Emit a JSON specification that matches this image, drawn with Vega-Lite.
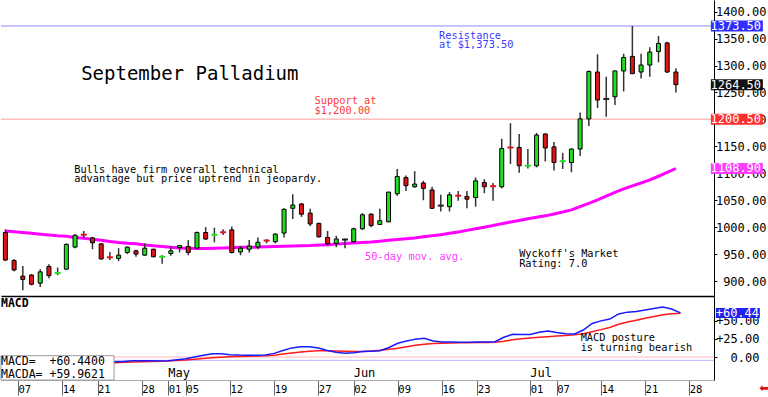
{
  "$schema": "https://vega.github.io/schema/vega-lite/v6.json",
  "background": "white",
  "padding": 0,
  "spacing": 0,
  "config": {"view": {"stroke": null}, "text": {"font": "DejaVu Sans Mono"}, "axis": {"labelFont": "DejaVu Sans Mono", "labelOverlap": false}},
  "datasets": {
    "candles": [
      {"i":-2,"o":990,"h":996,"l":937,"c":939,"ma":993,"m":-9,"s":-9.5},
      {"i":-1,"o":938,"h":941,"l":918,"c":920.5,"ma":991.5,"m":-9,"s":-9.5},
      {"i":0,"o":909,"h":928,"l":883,"c":903,"ma":990,"m":-9,"s":-9.5},
      {"i":1,"o":911,"h":913,"l":892,"c":894,"ma":988.5,"m":-9,"s":-9.5},
      {"i":2,"o":896,"h":922,"l":889,"c":917,"ma":987,"m":-8.5,"s":-9.3},
      {"i":3,"o":927,"h":931,"l":905,"c":910,"ma":985.5,"m":-8,"s":-9},
      {"i":4,"o":915,"h":925,"l":911,"c":916,"ma":984,"m":-7.5,"s":-8.8},
      {"i":5,"o":922,"h":970,"l":921,"c":968,"ma":983,"m":-6.5,"s":-8.5},
      {"i":6,"o":963,"h":987,"l":961,"c":985,"ma":981,"m":-5.5,"s":-8.2},
      {"i":7,"o":986,"h":993,"l":980,"c":985,"ma":979.5,"m":-5,"s":-8},
      {"i":8,"o":980,"h":982,"l":959,"c":971,"ma":977.5,"m":-5,"s":-7.9},
      {"i":9,"o":969,"h":970,"l":940,"c":941,"ma":975.5,"m":-5.5,"s":-7.8},
      {"i":10,"o":944,"h":954,"l":939,"c":943,"ma":973.5,"m":-6,"s":-7.8},
      {"i":11,"o":942,"h":961,"l":937,"c":948,"ma":971.5,"m":-6.4,"s":-7.7},
      {"i":12,"o":953,"h":964,"l":950,"c":963,"ma":970,"m":-6,"s":-7.3},
      {"i":13,"o":956,"h":958,"l":945,"c":950,"ma":969,"m":-5.2,"s":-6.8},
      {"i":14,"o":948,"h":970,"l":947,"c":961,"ma":967,"m":-5,"s":-6.4},
      {"i":15,"o":959,"h":960,"l":944,"c":945,"ma":965.5,"m":-5.2,"s":-6},
      {"i":16,"o":945,"h":948,"l":932,"c":946,"ma":964,"m":-5.5,"s":-5.8},
      {"i":17,"o":951,"h":964,"l":947,"c":956,"ma":962.5,"m":-5,"s":-5.5},
      {"i":18,"o":962,"h":967,"l":953,"c":966,"ma":961.5,"m":-3.8,"s":-4.8},
      {"i":19,"o":964,"h":976,"l":948,"c":953,"ma":961,"m":-2.5,"s":-4},
      {"i":20,"o":961,"h":992,"l":960,"c":990,"ma":960.5,"m":0,"s":-3},
      {"i":21,"o":990,"h":1000,"l":976,"c":978,"ma":960.5,"m":2.5,"s":-2},
      {"i":22,"o":986,"h":999,"l":972,"c":987,"ma":961,"m":4.5,"s":-1},
      {"i":23,"o":990.5,"h":996,"l":985.5,"c":989.5,"ma":961.5,"m":4.5,"s":-0.3},
      {"i":24,"o":995,"h":1001,"l":951,"c":953,"ma":962,"m":3.2,"s":0.3},
      {"i":25,"o":954,"h":965,"l":948,"c":961,"ma":962.5,"m":2.7,"s":0.8},
      {"i":26,"o":959,"h":976,"l":953,"c":965,"ma":962.5,"m":2.5,"s":1.1},
      {"i":27,"o":963,"h":981,"l":959,"c":972,"ma":963,"m":2.5,"s":1.4},
      {"i":28,"o":975,"h":978,"l":970,"c":974,"ma":963.5,"m":2.7,"s":1.7},
      {"i":29,"o":973,"h":989,"l":970,"c":987,"ma":964,"m":5,"s":2.5},
      {"i":30,"o":989,"h":1035,"l":981,"c":1033,"ma":964.5,"m":9,"s":4},
      {"i":31,"o":1035,"h":1061,"l":1015,"c":1041,"ma":965,"m":12.5,"s":5.5},
      {"i":32,"o":1043,"h":1045,"l":1019,"c":1024,"ma":965.5,"m":14,"s":7},
      {"i":33,"o":1026,"h":1034,"l":1002,"c":1006,"ma":966,"m":14,"s":8},
      {"i":34,"o":1007,"h":1008,"l":981,"c":982,"ma":967,"m":12.3,"s":8.5},
      {"i":35,"o":981,"h":993,"l":967,"c":969,"ma":967.5,"m":9,"s":8.6},
      {"i":36,"o":970,"h":984,"l":963,"c":978,"ma":968.5,"m":6.5,"s":8.3},
      {"i":37,"o":977,"h":979,"l":961,"c":977,"ma":969.5,"m":5,"s":7.8},
      {"i":38,"o":973,"h":999,"l":971,"c":997,"ma":970.5,"m":6,"s":7.4},
      {"i":39,"o":997,"h":1026,"l":995,"c":1023,"ma":971.5,"m":7.5,"s":7.6},
      {"i":40,"o":1024,"h":1026,"l":1000,"c":1003,"ma":972.5,"m":8,"s":8.2},
      {"i":41,"o":1005,"h":1034,"l":1004,"c":1012,"ma":974,"m":8.6,"s":9.2},
      {"i":42,"o":1010,"h":1066,"l":1009,"c":1065,"ma":975.5,"m":13,"s":10.5},
      {"i":43,"o":1062,"h":1108,"l":1058,"c":1094,"ma":977,"m":18.8,"s":11.9},
      {"i":44,"o":1092,"h":1096,"l":1067,"c":1077,"ma":978.5,"m":22,"s":14},
      {"i":45,"o":1075,"h":1104,"l":1073,"c":1080,"ma":980,"m":24.5,"s":16.2},
      {"i":46,"o":1082,"h":1086,"l":1050,"c":1072,"ma":982,"m":25.6,"s":17.5},
      {"i":47,"o":1069,"h":1075,"l":1034,"c":1035,"ma":984,"m":22,"s":18.6},
      {"i":48,"o":1040,"h":1060,"l":1029,"c":1040,"ma":986,"m":20.5,"s":19},
      {"i":49,"o":1038,"h":1065,"l":1029,"c":1060,"ma":988.5,"m":20.5,"s":19.3},
      {"i":50,"o":1058.5,"h":1067,"l":1049,"c":1057.5,"ma":991,"m":20.3,"s":19.5},
      {"i":51,"o":1057,"h":1067,"l":1035,"c":1052,"ma":994,"m":20.1,"s":19.6},
      {"i":52,"o":1055,"h":1092,"l":1038,"c":1086,"ma":997,"m":20.5,"s":19.8},
      {"i":53,"o":1083,"h":1089,"l":1063,"c":1075,"ma":1000,"m":20.5,"s":20},
      {"i":54,"o":1076,"h":1082,"l":1049,"c":1075,"ma":1003,"m":21,"s":20.1},
      {"i":55,"o":1075,"h":1164,"l":1072,"c":1146,"ma":1006.5,"m":27,"s":21.5},
      {"i":56,"o":1148,"h":1193,"l":1117,"c":1147,"ma":1009.5,"m":31.1,"s":23.5},
      {"i":57,"o":1148,"h":1173,"l":1101,"c":1114,"ma":1012.5,"m":31,"s":25},
      {"i":58,"o":1114,"h":1145,"l":1109,"c":1115,"ma":1015.5,"m":31,"s":26},
      {"i":59,"o":1114,"h":1175,"l":1111,"c":1171,"ma":1018.5,"m":34,"s":27},
      {"i":60,"o":1173,"h":1174,"l":1122,"c":1147,"ma":1021,"m":35.6,"s":27.8},
      {"i":61,"o":1149,"h":1158,"l":1105,"c":1120,"ma":1024.5,"m":33.5,"s":28.7},
      {"i":62,"o":1122.5,"h":1138,"l":1108,"c":1123.5,"ma":1028,"m":32,"s":29.6},
      {"i":63,"o":1120,"h":1146,"l":1102,"c":1145,"ma":1032,"m":31.5,"s":30.5},
      {"i":64,"o":1145,"h":1213,"l":1132,"c":1201,"ma":1038,"m":37,"s":32},
      {"i":65,"o":1201,"h":1291,"l":1188,"c":1289,"ma":1044,"m":46,"s":34.7},
      {"i":66,"o":1288,"h":1321,"l":1221,"c":1236,"ma":1050.5,"m":49.5,"s":37.5},
      {"i":67,"o":1238,"h":1279,"l":1205,"c":1238,"ma":1057.5,"m":52,"s":40.5},
      {"i":68,"o":1242,"h":1291,"l":1227,"c":1290,"ma":1064.5,"m":59,"s":44.8},
      {"i":69,"o":1290,"h":1322,"l":1252,"c":1315,"ma":1071,"m":61.5,"s":48},
      {"i":70,"o":1317,"h":1373.5,"l":1284,"c":1285,"ma":1076.5,"m":62.5,"s":50.5},
      {"i":71,"o":1288,"h":1322,"l":1276,"c":1301,"ma":1082,"m":64.4,"s":53},
      {"i":72,"o":1301,"h":1334,"l":1279,"c":1325,"ma":1087.7,"m":66.5,"s":55.5},
      {"i":73,"o":1326,"h":1355,"l":1306,"c":1341,"ma":1094.5,"m":68.5,"s":58},
      {"i":74,"o":1342,"h":1344,"l":1286,"c":1288,"ma":1101.5,"m":65.8,"s":59.3},
      {"i":75,"o":1288,"h":1295,"l":1250,"c":1264.5,"ma":1108.9,"m":60.44,"s":59.96}
    ],
    "tags": [
      {"kind":"resistance","price":1373.5},
      {"kind":"last","price":1264.5},
      {"kind":"support","price":1200.5},
      {"kind":"ma50","price":1108.9}
    ],
    "months": [
      {"month":"May","first":17},
      {"month":"Jun","first":38},
      {"month":"Jul","first":58}
    ]
  },
  "vconcat": [
    {
      "width": 713,
      "height": 296,
      "layer": [
        {
          "data": {"name": "candles"},
          "mark": {"type": "line", "color": "#ff00ff", "strokeWidth": 3, "clip": true},
          "encoding": {
            "x": {"field": "i", "type": "quantitative", "scale": {"domain": [-1.93, 78.8], "nice": false, "zero": false},
                  "axis": {"orient": "bottom", "title": null, "labels": false, "ticks": false, "grid": false, "domain": true, "domainColor": "#000", "domainWidth": 1.5}},
            "y": {"field": "ma", "type": "quantitative", "scale": {"domain": [872.2, 1421.7], "nice": false, "zero": false},
                  "axis": {"orient": "right", "title": null, "values": [900, 950, 1000, 1050, 1100, 1150, 1200, 1250, 1300, 1350, 1400], "tickCount": 30, "labelExpr": "format(datum.value, '.2f')", "grid": false, "domainColor": "#000", "tickColor": "#000", "tickSize": 3, "labelAlign": "right", "labelPadding": 49, "labelFontSize": 12, "labelColor": "#000", "labelBaseline": "middle", "labelOverlap": false, "labelFlush": false, "labelBound": false}}
          }
        },
        {
          "data": {"values": [{}]},
          "mark": {"type": "rule", "color": "#8c8cff", "strokeWidth": 1},
          "encoding": {"y": {"datum": 1373.5, "type": "quantitative"}}
        },
        {
          "data": {"values": [{}]},
          "mark": {"type": "rule", "color": "#ff9c9c", "strokeWidth": 1},
          "encoding": {"y": {"datum": 1200.5, "type": "quantitative"}}
        },
        {
          "data": {"name": "candles"},
          "mark": {"type": "rule", "color": "#333", "strokeWidth": 1.5, "clip": true},
          "encoding": {
            "x": {"field": "i", "type": "quantitative"},
            "y": {"field": "l", "type": "quantitative"},
            "y2": {"field": "h"}
          }
        },
        {
          "data": {"name": "candles"},
          "transform": [{"filter": "abs(datum.c - datum.o) >= 2.5"}],
          "mark": {"type": "bar", "width": 4, "stroke": "#000", "strokeWidth": 1, "clip": true},
          "encoding": {
            "x": {"field": "i", "type": "quantitative"},
            "y": {"field": "o", "type": "quantitative"},
            "y2": {"field": "c"},
            "fill": {"condition": {"test": "datum.c > datum.o", "value": "#22dd22"}, "value": "#e01414"}
          }
        },
        {
          "data": {"name": "candles"},
          "transform": [{"filter": "abs(datum.c - datum.o) < 2.5"}],
          "mark": {"type": "tick", "orient": "horizontal", "size": 6, "thickness": 2, "opacity": 1, "clip": true},
          "encoding": {
            "x": {"field": "i", "type": "quantitative"},
            "y": {"field": "o", "type": "quantitative"},
            "color": {"condition": [{"test": "datum.c > datum.o", "value": "#22dd22"}, {"test": "datum.c < datum.o", "value": "#e01414"}], "value": "#222"}
          }
        },
        {
          "data": {"name": "tags"},
          "mark": {"type": "tick", "orient": "horizontal", "size": 52, "thickness": 11, "opacity": 1},
          "encoding": {
            "y": {"field": "price", "type": "quantitative"},
            "x": {"datum": 82.0, "type": "quantitative"},
            "color": {"field": "kind", "type": "nominal", "scale": {"domain": ["resistance", "last", "support", "ma50"], "range": ["#2f2fff", "#111111", "#ff2f2f", "#ff3cff"]}, "legend": null}
          }
        },
        {
          "data": {"name": "tags"},
          "mark": {"type": "text", "align": "right", "baseline": "middle", "color": "white", "fontSize": 12, "font": "DejaVu Sans Mono"},
          "encoding": {
            "y": {"field": "price", "type": "quantitative"},
            "x": {"datum": 84.78, "type": "quantitative"},
            "text": {"field": "price", "type": "quantitative", "format": ".2f"}
          }
        },
        {
          "data": {"values": [{}]},
          "mark": {"type": "text", "text": "September Palladium", "align": "left", "baseline": "middle", "fontSize": 19, "color": "#000", "font": "DejaVu Sans Mono"},
          "encoding": {"x": {"datum": 6.7, "type": "quantitative"}, "y": {"datum": 1283.4, "type": "quantitative"}}
        },
        {
          "data": {"values": [{}]},
          "mark": {"type": "text", "text": "Resistance", "align": "left", "baseline": "middle", "fontSize": 10.3, "color": "#3a3aff", "font": "DejaVu Sans Mono"},
          "encoding": {"x": {"datum": 47.8, "type": "quantitative"}, "y": {"datum": 1354.5, "type": "quantitative"}}
        },
        {
          "data": {"values": [{}]},
          "mark": {"type": "text", "text": "at $1,373.50", "align": "left", "baseline": "middle", "fontSize": 10.3, "color": "#3a3aff", "font": "DejaVu Sans Mono"},
          "encoding": {"x": {"datum": 47.8, "type": "quantitative"}, "y": {"datum": 1337.4, "type": "quantitative"}}
        },
        {
          "data": {"values": [{}]},
          "mark": {"type": "text", "text": "Support at", "align": "left", "baseline": "middle", "fontSize": 10.3, "color": "#ff3a3a", "font": "DejaVu Sans Mono"},
          "encoding": {"x": {"datum": 33.5, "type": "quantitative"}, "y": {"datum": 1235, "type": "quantitative"}}
        },
        {
          "data": {"values": [{}]},
          "mark": {"type": "text", "text": "$1,200.00", "align": "left", "baseline": "middle", "fontSize": 10.3, "color": "#ff3a3a", "font": "DejaVu Sans Mono"},
          "encoding": {"x": {"datum": 33.5, "type": "quantitative"}, "y": {"datum": 1216, "type": "quantitative"}}
        },
        {
          "data": {"values": [{}]},
          "mark": {"type": "text", "text": "Bulls have firm overall technical", "align": "left", "baseline": "middle", "fontSize": 10.3, "color": "#000", "font": "DejaVu Sans Mono"},
          "encoding": {"x": {"datum": 5.9, "type": "quantitative"}, "y": {"datum": 1106.9, "type": "quantitative"}}
        },
        {
          "data": {"values": [{}]},
          "mark": {"type": "text", "text": "advantage but price uptrend in jeopardy.", "align": "left", "baseline": "middle", "fontSize": 10.3, "color": "#000", "font": "DejaVu Sans Mono"},
          "encoding": {"x": {"datum": 5.9, "type": "quantitative"}, "y": {"datum": 1089.4, "type": "quantitative"}}
        },
        {
          "data": {"values": [{}]},
          "mark": {"type": "text", "text": "50-day mov. avg.", "align": "left", "baseline": "middle", "fontSize": 10.3, "color": "#ff3cff", "font": "DejaVu Sans Mono"},
          "encoding": {"x": {"datum": 39.3, "type": "quantitative"}, "y": {"datum": 944.8, "type": "quantitative"}}
        },
        {
          "data": {"values": [{}]},
          "mark": {"type": "text", "text": "Wyckoff's Market", "align": "left", "baseline": "middle", "fontSize": 10.3, "color": "#000", "font": "DejaVu Sans Mono"},
          "encoding": {"x": {"datum": 57.0, "type": "quantitative"}, "y": {"datum": 949.5, "type": "quantitative"}}
        },
        {
          "data": {"values": [{}]},
          "mark": {"type": "text", "text": "Rating: 7.0", "align": "left", "baseline": "middle", "fontSize": 10.3, "color": "#000", "font": "DejaVu Sans Mono"},
          "encoding": {"x": {"datum": 57.0, "type": "quantitative"}, "y": {"datum": 930.9, "type": "quantitative"}}
        }
      ]
    },
    {
      "width": 713,
      "height": 84,
      "layer": [
        {
          "data": {"values": [{}]},
          "mark": {"type": "rule", "color": "#ffb8b8", "strokeWidth": 1},
          "encoding": {"y": {"datum": 0, "type": "quantitative"}}
        },
        {
          "data": {"values": [{}]},
          "mark": {"type": "rule", "color": "#b8b8ff", "strokeWidth": 1},
          "encoding": {"y": {"datum": -4.6, "type": "quantitative"}}
        },
        {
          "data": {"name": "candles"},
          "mark": {"type": "line", "color": "#ff1a1a", "strokeWidth": 1.5, "clip": true},
          "encoding": {
            "x": {"field": "i", "type": "quantitative", "scale": {"domain": [-1.93, 78.8], "nice": false, "zero": false},
                  "axis": {"orient": "bottom", "title": null, "values": [0, 5, 9, 14, 17, 19, 24, 29, 34, 38, 43, 48, 52, 58, 61, 66, 71, 76], "tickCount": 40,
                           "labelExpr": "({'0':'07','5':'14','9':'21','14':'28','17':'01','19':'05','24':'12','29':'19','34':'27','38':'02','43':'09','48':'16','52':'23','58':'01','61':'07','66':'14','71':'21','76':'28'})[''+datum.value]",
                           "grid": false, "domain": true, "domainColor": "#aaa", "ticks": true, "tickColor": "#666", "tickSize": 15, "labelAlign": "left", "labelBaseline": "top", "labelPadding": -11, "labelDx": 2, "labelFontSize": 10.5, "labelColor": "#000", "labelOverlap": false, "labelFlush": false, "labelBound": false}},
            "y": {"field": "s", "type": "quantitative", "scale": {"domain": [-31.5, 83.6], "nice": false, "zero": false},
                  "axis": {"orient": "right", "title": null, "values": [0, 25, 50], "tickCount": 10, "labelExpr": "datum.value > 0 ? '+' + format(datum.value, '.2f') : format(datum.value, '.2f')", "grid": false, "domainColor": "#000", "tickColor": "#000", "tickSize": 3, "labelAlign": "right", "labelPadding": 42, "labelFontSize": 12, "labelColor": "#000", "labelBaseline": "middle", "labelOverlap": false, "labelFlush": false, "labelBound": false}}
          }
        },
        {
          "data": {"name": "candles"},
          "mark": {"type": "line", "color": "#1a1aff", "strokeWidth": 1.5, "clip": true},
          "encoding": {
            "x": {"field": "i", "type": "quantitative"},
            "y": {"field": "m", "type": "quantitative"}
          }
        },
        {
          "data": {"values": [{}]},
          "mark": {"type": "rect", "fill": "white", "stroke": "#9a9a9a", "strokeWidth": 1},
          "encoding": {"x": {"datum": -1.93, "type": "quantitative"}, "x2": {"datum": 10.87}, "y": {"datum": 1.8, "type": "quantitative"}, "y2": {"datum": -31.5}}
        },
        {
          "data": {"values": [{}]},
          "mark": {"type": "text", "text": "MACD=\u00a0\u00a0+60.4400", "align": "left", "baseline": "middle", "fontSize": 11.5, "color": "#000", "font": "DejaVu Sans Mono"},
          "encoding": {"x": {"datum": -1.93, "type": "quantitative"}, "y": {"datum": -7.5, "type": "quantitative"}}
        },
        {
          "data": {"values": [{}]},
          "mark": {"type": "text", "text": "MACDA=\u00a0+59.9621", "align": "left", "baseline": "middle", "fontSize": 11.5, "color": "#000", "font": "DejaVu Sans Mono"},
          "encoding": {"x": {"datum": -1.93, "type": "quantitative"}, "y": {"datum": -24.9, "type": "quantitative"}}
        },
        {
          "data": {"values": [{}]},
          "mark": {"type": "text", "text": "MACD", "align": "left", "baseline": "middle", "fontSize": 11.5, "fontWeight": "bold", "color": "#000", "font": "DejaVu Sans Mono"},
          "encoding": {"x": {"datum": -1.93, "type": "quantitative"}, "y": {"datum": 72.9, "type": "quantitative"}}
        },
        {
          "data": {"values": [{}]},
          "mark": {"type": "text", "text": "MACD posture", "align": "left", "baseline": "middle", "fontSize": 10.3, "color": "#000", "font": "DejaVu Sans Mono"},
          "encoding": {"x": {"datum": 63.7, "type": "quantitative"}, "y": {"datum": 26.2, "type": "quantitative"}}
        },
        {
          "data": {"values": [{}]},
          "mark": {"type": "text", "text": "is turning bearish", "align": "left", "baseline": "middle", "fontSize": 10.3, "color": "#000", "font": "DejaVu Sans Mono"},
          "encoding": {"x": {"datum": 63.7, "type": "quantitative"}, "y": {"datum": 11.8, "type": "quantitative"}}
        },
        {
          "data": {"name": "months"},
          "mark": {"type": "text", "align": "left", "baseline": "middle", "fontSize": 12, "color": "#000", "font": "DejaVu Sans Mono"},
          "encoding": {"x": {"field": "first", "type": "quantitative"}, "y": {"datum": -22.5, "type": "quantitative"}, "text": {"field": "month"}}
        },
        {
          "data": {"values": [{}]},
          "mark": {"type": "tick", "orient": "horizontal", "size": 44, "thickness": 10, "opacity": 1, "color": "#2222ee"},
          "encoding": {"y": {"datum": 60.44, "type": "quantitative"}, "x": {"datum": 81.5, "type": "quantitative"}}
        },
        {
          "data": {"values": [{}]},
          "mark": {"type": "text", "text": "+60.44", "align": "right", "baseline": "middle", "fontSize": 12, "color": "white", "font": "DejaVu Sans Mono"},
          "encoding": {"x": {"datum": 83.9, "type": "quantitative"}, "y": {"datum": 60.44, "type": "quantitative"}}
        },
        {
          "data": {"values": [{}]},
          "mark": {"type": "text", "text": "⬅", "align": "center", "baseline": "middle", "fontSize": 12, "color": "#e01010", "font": "DejaVu Sans"},
          "encoding": {"x": {"datum": 84.5, "type": "quantitative"}, "y": {"datum": -42.5, "type": "quantitative"}}
        }
      ]
    }
  ]
}
